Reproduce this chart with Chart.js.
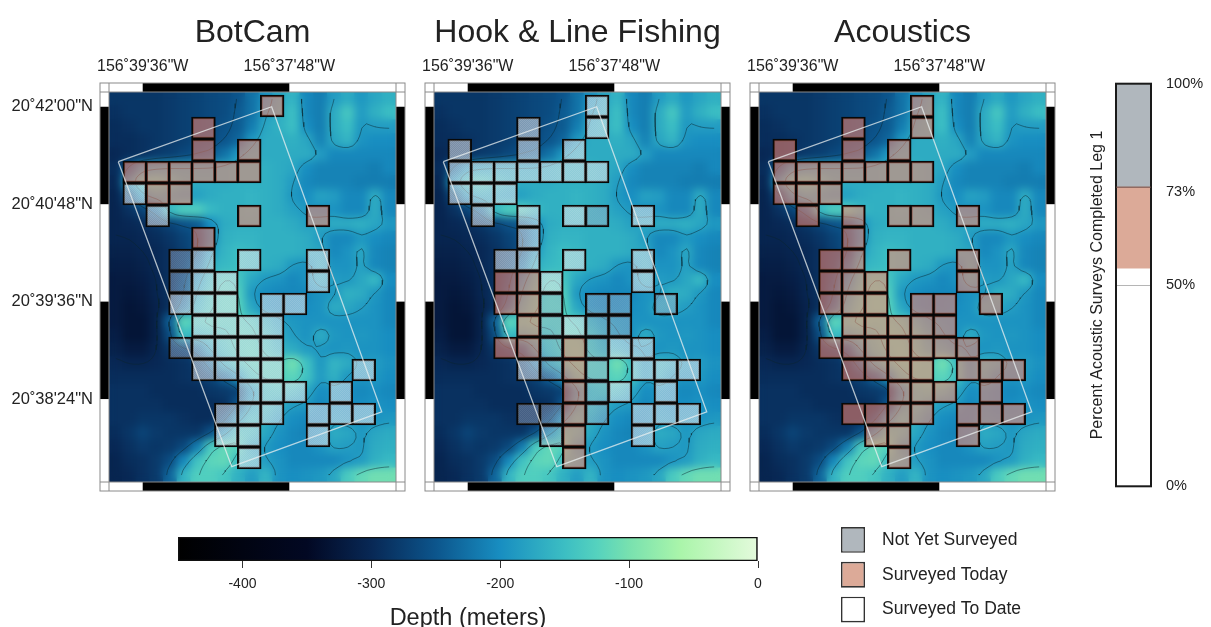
<!DOCTYPE html>
<html><head><meta charset="utf-8">
<script src="https://cdn.jsdelivr.net/npm/chart.js@4"></script>
<style>
html,body{margin:0;padding:0;background:#fff;width:1211px;height:627px;overflow:hidden}
canvas{position:absolute;display:block}
</style></head><body>
<canvas id="c1" style="left:0;top:0" width="420" height="500"></canvas>
<canvas id="c2" style="left:400px;top:0" width="345" height="500"></canvas>
<canvas id="c3" style="left:725px;top:0" width="345" height="500"></canvas>
<canvas id="cProg" style="left:1070px;top:60px" width="141" height="450"></canvas>
<canvas id="cBar" style="left:150px;top:520px" width="640" height="107"></canvas>
<canvas id="cLeg" style="left:830px;top:520px" width="230" height="107"></canvas>
<script>
const panelTitles = ["BotCam", "Hook & Line Fishing", "Acoustics"];
const lonTicks = [0, 108];
const lonLabels = ['156˚39\'36"W', '156˚37\'48"W'];
const latTicks = [0, 72, 144, 216];
const latLabels = ['20˚38\'24"N', '20˚39\'36"N', '20˚40\'48"N', '20˚42\'00"N'];
const lonRange = [-24.83, 186.6];
const latRange = [-61.3, 226.9];
const frameBlackLon = [[0, 108]];
const frameBlackLat = [[0, 72], [144, 216]];
const surveyBoxLon = [-18.0, 95.0, 176.1, 65.6, -18.0];
const surveyBoxLat = [175.4, 216.0, -9.4, -50.0, 175.4];
const gridLonStart = -14.3, gridLonStep = 16.87, gridLatStart = 224.7, gridLatStep = 16.26;

const botcamCells = ["......T....","...T.......","...T.T.....","TTTTTT.....","DTT........",".D...T..T..","...T.......","..ND.D..D..","..NDD...D..","..DDD.DD...","...DDDD....","..NDDDD....","...DDDD...D",".....DDD.D.","....DDD.DDD","....DD..D..",".....D....."];
const hookCells = ["......D....","...D..D....","D..D.D.....","DDDDDDD....","DDD........",".D.D.DN.D..","...D.......","..DD.D..D..","..TTD...D..","..TTN.NN.N.","...TNDNN...","..TTNTNDD..","...DNTN.DDD",".....TND.D.","...NNTN.DDD","....NT..D..",".....T....."];
const acousticsCells = ["......T....","...T..T....","T..T.T.....","TTTTTTT....","TTT........",".T.T.TT.T..","...T.......","..TT.T..T..","..TTT...T..","..TTT.TT.T.","...TTTTT...","..TTTTTTT..","...TTTT.TTT",".....TTT.T.","...TTTT.TTT","....TT..T..",".....T....."];

// depth below surface (m), west to east, north to south
const depthGrid = [
[285,285,285,285,280,275,270,265,260,250,225,195,175,160,205,215,185,170,190,175,165],
[290,285,285,285,280,275,270,265,260,245,225,185,170,150,205,215,170,140,185,165,150],
[295,290,285,285,280,275,270,265,255,245,215,175,165,150,200,215,170,150,190,185,185],
[295,295,290,285,280,275,265,260,250,235,190,170,170,165,175,210,175,160,195,200,200],
[300,295,290,280,275,265,255,245,225,190,170,170,170,170,170,185,205,205,205,205,205],
[295,240,190,180,175,175,175,175,170,165,165,165,170,175,200,210,210,210,210,215,205],
[300,190,140,135,150,165,170,170,170,165,165,165,170,185,205,210,210,210,215,215,215],
[305,260,190,170,175,180,180,170,165,165,160,165,170,190,200,180,185,205,205,170,205],
[305,290,270,235,150,130,130,155,165,165,160,165,170,180,190,195,195,205,205,170,205],
[305,300,295,285,270,255,245,200,170,165,165,165,165,170,180,175,170,170,165,175,190],
[305,305,300,295,285,270,255,205,165,160,160,165,165,165,170,185,205,205,190,200,205],
[310,310,305,300,290,275,255,185,160,150,155,165,165,165,170,175,205,195,175,205,210],
[315,315,310,300,290,270,230,165,155,150,155,165,170,190,195,170,195,195,180,205,210],
[320,320,315,305,290,260,195,150,130,140,175,190,195,205,195,170,185,190,175,155,200],
[320,325,320,305,290,250,175,140,125,130,190,200,205,205,205,195,190,165,170,190,205],
[320,330,325,310,290,230,160,135,125,125,175,200,205,205,200,195,170,175,185,195,205],
[320,330,330,310,240,120,135,125,130,130,135,160,180,190,195,195,195,195,195,195,205],
[315,330,330,310,260,150,160,150,140,125,130,145,170,185,195,170,190,195,190,195,200],
[310,320,320,305,285,270,240,175,145,130,125,140,160,170,185,190,195,190,195,195,200],
[300,305,305,300,295,290,280,230,165,140,125,125,130,105,145,190,160,170,190,185,195],
[295,295,295,295,295,290,285,270,240,190,140,130,130,120,145,185,165,190,195,190,200],
[290,290,290,295,295,295,295,285,280,270,190,150,145,155,175,200,195,200,205,200,205],
[290,290,290,290,295,295,295,295,290,250,175,150,170,185,190,205,195,200,200,195,200],
[290,290,285,285,285,290,295,295,260,190,150,165,185,200,205,205,190,195,195,195,190],
[295,285,270,280,285,285,285,255,190,140,150,175,195,205,210,200,170,175,190,175,170],
[300,290,280,285,280,265,215,135,115,125,175,190,200,205,205,195,180,185,190,170,165],
[305,295,290,280,260,205,145,120,115,150,160,185,195,205,205,205,205,195,185,165,155],
[305,300,290,280,235,160,130,130,140,165,185,160,195,200,195,190,175,135,115,105,105]
];
const contourLevels = [305, 250, 185, 135];

const colorDepths = [-450,-350,-300,-250,-200,-150,-125,-100,-60,0];
const colorStops = [[0,0,0],[2,8,35],[8,40,85],[12,85,140],[24,142,193],[60,190,195],[85,210,190],[120,225,175],[170,245,170],[228,250,220]];

const progressTicks = [0, 50, 73, 100];
const progressToDate = [0, 54];
const progressToday = [54, 74.3];
const progressNotYet = [74.3, 100];

const colorbarRange = [-450, 0];
const colorbarTicks = [-400, -300, -200, -100, 0];

const legendLabels = ["Not Yet Surveyed", "Surveyed Today", "Surveyed To Date"];
const legendColors = ["#b0b7bd", "#dcaa98", "#ffffff"];

const FONT = '"Liberation Sans", Arial, sans-serif';
const TEXT = '#222';
function meshFill(rgb,a1,a2){
  const c=document.createElement('canvas');c.width=c.height=2;
  const g=c.getContext('2d');
  g.fillStyle=`rgba(${rgb},${a1})`;g.fillRect(0,0,1,1);g.fillRect(1,1,1,1);
  g.fillStyle=`rgba(${rgb},${a2})`;g.fillRect(1,0,1,1);g.fillRect(0,1,1,1);
  return g.createPattern(c,'repeat');
}
const cellFill = {T:'rgba(250,135,110,0.55)', D:meshFill('228,232,236',0.6,0.52), N:meshFill('170,180,200',0.46,0.38)};
Chart.defaults.font.family = FONT;
Chart.defaults.animation = false;

function depthColor(d){
  for(let i=1;i<colorDepths.length;i++){
    if(d<=colorDepths[i]){
      const t=(d-colorDepths[i-1])/(colorDepths[i]-colorDepths[i-1]);
      const a=colorStops[i-1],b=colorStops[i];
      return `rgb(${a.map((v,k)=>Math.round(v+(b[k]-v)*t)).join(',')})`;
    }
  }
  return 'rgb(228,250,220)';
}
const nRows=depthGrid.length,nCols=depthGrid[0].length;
const gridLon=j=>lonRange[0]+(j+0.5)*(lonRange[1]-lonRange[0])/nCols;
const gridLat=i=>latRange[1]-(i+0.5)*(latRange[1]-latRange[0])/nRows;
const depthPoints=[],depthColors=[];
depthGrid.forEach((row,i)=>row.forEach((d,j)=>{
  depthPoints.push({x:gridLon(j),y:gridLat(i)});
  depthColors.push(depthColor(-d));
}));
// contour lines: traced on a refined, smoothed copy of the depth grid
const contourPoints=[];
(function(){
  const K=3,R=(nRows-1)*K+1,C=(nCols-1)*K+1;
  let f=[];
  for(let i=0;i<R;i++){const row=[];for(let j=0;j<C;j++){
    const a=i/K,b=j/K,i0=Math.min(Math.floor(a),nRows-2),j0=Math.min(Math.floor(b),nCols-2),u=a-i0,v=b-j0;
    row.push((1-u)*((1-v)*depthGrid[i0][j0]+v*depthGrid[i0][j0+1])+u*((1-v)*depthGrid[i0+1][j0]+v*depthGrid[i0+1][j0+1]));
  }f.push(row);}
  for(let pass=0;pass<2;pass++){
    const g=f.map(r=>r.slice());
    for(let i=0;i<R;i++)for(let j=0;j<C;j++){
      let s=0,w=0;
      for(let di=-1;di<=1;di++)for(let dj=-1;dj<=1;dj++){
        const a=i+di,b=j+dj;if(a<0||b<0||a>=R||b>=C)continue;
        const k=(2-Math.abs(di))*(2-Math.abs(dj));s+=f[a][b]*k;w+=k;
      }
      g[i][j]=s/w;
    }
    f=g;
  }
  const gap={x:NaN,y:NaN};
  contourLevels.forEach(L=>{
    for(let i=0;i<R-1;i++)for(let j=0;j<C-1;j++){
      const a=f[i][j]-L+1e-6,b=f[i][j+1]-L+1e-6,c=f[i+1][j+1]-L+1e-6,d=f[i+1][j]-L+1e-6;
      const xs=[];
      const x0=gridLon(j/K),x1=gridLon((j+1)/K),y0=gridLat(i/K),y1=gridLat((i+1)/K);
      if(a*b<0)xs.push({x:x0+(x1-x0)*a/(a-b),y:y0});
      if(b*c<0)xs.push({x:x1,y:y0+(y1-y0)*b/(b-c)});
      if(c*d<0)xs.push({x:x0+(x1-x0)*d/(d-c),y:y1});
      if(d*a<0)xs.push({x:x0,y:y0+(y1-y0)*a/(a-d)});
      for(let k=0;k+1<xs.length;k+=2)contourPoints.push(xs[k],xs[k+1],gap);
    }
  });
})();
const noPad=s=>{s.paddingTop=0;s.paddingBottom=0;};

const mapPlugin={
  id:'mapPlugin',
  afterDatasetDraw(chart,args){
    const ds=chart.data.datasets[args.index];
    if(!ds.blurPx)return;
    const A=chart.chartArea,w=Math.round(A.right-A.left),h=Math.round(A.bottom-A.top);
    const off=document.createElement('canvas');off.width=w;off.height=h;
    off.getContext('2d').drawImage(chart.canvas,A.left,A.top,w,h,0,0,w,h);
    const ctx=chart.ctx;ctx.save();
    ctx.beginPath();ctx.rect(A.left,A.top,w,h);ctx.clip();
    ctx.filter=`blur(${ds.blurPx}px)`;
    ctx.drawImage(off,A.left,A.top);
    ctx.restore();
  },
  afterDraw(chart){
    const {ctx,chartArea:A,scales:{x,y}}=chart;
    const w=9, ol=A.left-w, or=A.right+w, ot=A.top-w, ob=A.bottom+w;
    ctx.save();
    ctx.fillStyle='#fff';
    ctx.fillRect(ol,ot,or-ol,w);ctx.fillRect(ol,A.bottom,or-ol,w);
    ctx.fillRect(ol,ot,w,ob-ot);ctx.fillRect(A.right,ot,w,ob-ot);
    ctx.fillStyle='#000';
    frameBlackLon.forEach(([a,b])=>{
      const p=x.getPixelForValue(a),q=x.getPixelForValue(b);
      ctx.fillRect(p,ot,q-p,w);ctx.fillRect(p,A.bottom,q-p,w);
    });
    frameBlackLat.forEach(([a,b])=>{
      const p=y.getPixelForValue(b),q=y.getPixelForValue(a);
      ctx.fillRect(ol,p,w,q-p);ctx.fillRect(A.right,p,w,q-p);
    });
    ctx.strokeStyle='#8a8a8a';ctx.lineWidth=1;
    ctx.strokeRect(ol,ot,or-ol,ob-ot);
    ctx.beginPath();
    [A.top,A.bottom].forEach(v=>{ctx.moveTo(ol,v);ctx.lineTo(or,v);});
    [A.left,A.right].forEach(v=>{ctx.moveTo(v,ot);ctx.lineTo(v,ob);});
    ctx.stroke();
    ctx.restore();
  }
};

function makePanel(id,title,cells,leftPad,rightPad,showLat){
  const bars=[],fills=[];
  cells.forEach((row,r)=>[...row].forEach((s,c)=>{
    if(s==='.')return;
    const top=gridLatStart-r*gridLatStep;
    bars.push({x:gridLonStart+(c+0.5)*gridLonStep,y:[top-gridLatStep,top]});
    fills.push(cellFill[s]);
  }));
  const box=surveyBoxLon.map((v,i)=>({x:v,y:surveyBoxLat[i]}));
  new Chart(document.getElementById(id),{
    type:'scatter',
    data:{datasets:[
      {type:'scatter',data:box,showLine:true,borderColor:'rgba(235,240,240,0.75)',borderWidth:1.3,pointRadius:0,order:0,tension:0},
      {type:'bar',data:bars,backgroundColor:fills,borderColor:'#080808',borderWidth:1.9,borderSkipped:false,barThickness:23.8,grouped:false,order:1},
      {type:'scatter',data:contourPoints,showLine:true,spanGaps:false,borderColor:'rgba(10,35,45,0.6)',borderWidth:0.8,pointRadius:0,order:2},
      {type:'scatter',data:depthPoints,pointStyle:'rect',pointRadius:10.6,pointBorderWidth:0,borderWidth:0,pointBackgroundColor:depthColors,blurPx:4,order:3}
    ]},
    options:{
      responsive:false,devicePixelRatio:1,
      layout:{autoPadding:false,padding:{left:leftPad,right:rightPad,top:0,bottom:18}},
      plugins:{
        legend:{display:false},tooltip:{enabled:false},
        title:{display:true,text:title,fullSize:false,color:TEXT,font:{size:32,weight:'normal',family:FONT},padding:{top:13.6,bottom:0}}
      },
      scales:{
        x:{type:'linear',position:'top',min:lonRange[0],max:lonRange[1],offset:false,
          grid:{display:false,drawTicks:false},border:{display:false},
          afterBuildTicks:s=>{s.ticks=lonTicks.map(value=>({value}));},
          afterFit:s=>{s.height=40;s.paddingLeft=0;s.paddingRight=0;},
          ticks:{callback:(v,i)=>lonLabels[i],autoSkip:false,maxRotation:0,padding:16,color:TEXT,font:{size:16}}
        },
        y:{type:'linear',display:showLat,position:'left',min:latRange[0],max:latRange[1],
          grid:{display:false,drawTicks:false},border:{display:false},
          afterBuildTicks:s=>{s.ticks=latTicks.map(value=>({value}));},
          afterFit:s=>{s.width=showLat?109:0;noPad(s);},
          ticks:{callback:(v,i)=>latLabels[i],autoSkip:false,padding:16,color:TEXT,font:{size:16.5}}
        }
      }
    },
    plugins:[mapPlugin]
  });
}
makePanel('c1',panelTitles[0],botcamCells,0,24,true);
makePanel('c2',panelTitles[1],hookCells,34,24,false);
makePanel('c3',panelTitles[2],acousticsCells,34,24,false);

// progress column
new Chart(document.getElementById('cProg'),{
  type:'bar',
  data:{labels:['Leg 1'],datasets:[
    {data:[progressToDate],backgroundColor:'#ffffff',grouped:false},
    {data:[progressToday],backgroundColor:'#dcaa98',grouped:false},
    {data:[progressNotYet],backgroundColor:'#b0b7bd',grouped:false}
  ]},
  options:{
    responsive:false,devicePixelRatio:1,
    layout:{padding:{left:0,right:0,top:22,bottom:12}},
    datasets:{bar:{barPercentage:1,categoryPercentage:1}},
    plugins:{legend:{display:false},tooltip:{enabled:false}},
    scales:{
      x:{display:false},
      yL:{position:'left',min:0,max:100,
        grid:{display:false,drawTicks:false},border:{display:false},
        ticks:{display:false},
        afterFit:s=>{s.width=46;},
        title:{display:true,text:'Percent Acoustic Surveys Completed Leg 1',color:TEXT,font:{size:16},padding:{top:18,bottom:0}}
      },
      y:{position:'right',min:0,max:100,
        afterBuildTicks:s=>{s.ticks=progressTicks.map(value=>({value}));},
        afterFit:s=>{s.width=60;},
        grid:{z:1,drawTicks:false,color:c=>c.tick&&c.tick.value===50?'#b5b5b5':'rgba(0,0,0,0)'},border:{display:false},
        ticks:{callback:v=>v+'%',padding:15,color:TEXT,font:{size:14.5},autoSkip:false}
      }
    }
  },
  plugins:[{id:'progFrame',afterDraw(ch){
    const {ctx,chartArea:A,scales:{y}}=ch;
    ctx.save();ctx.strokeStyle='#1a1a1a';ctx.lineWidth=2;
    ctx.strokeRect(A.left,A.top,A.right-A.left,A.bottom-A.top);
    ctx.strokeStyle='#6b4a45';ctx.lineWidth=1;ctx.beginPath();
    const p=y.getPixelForValue(progressNotYet[0]);
    ctx.moveTo(A.left,p);ctx.lineTo(A.right,p);ctx.stroke();ctx.restore();
  }}]
});

// colour bar
new Chart(document.getElementById('cBar'),{
  type:'bar',
  data:{labels:['Depth'],datasets:[{data:[colorbarRange],
    backgroundColor:c=>{
      const ch=c.chart;if(!ch.chartArea)return '#000';
      const x=ch.scales.x,g=ch.ctx.createLinearGradient(x.left,0,x.right,0);
      colorDepths.forEach(d=>g.addColorStop((d-colorbarRange[0])/(colorbarRange[1]-colorbarRange[0]),depthColor(d)));
      return g;
    },
    borderColor:'#111',borderWidth:1.6,borderSkipped:false,barPercentage:1,categoryPercentage:1}]},
  options:{
    indexAxis:'y',responsive:false,devicePixelRatio:1,
    layout:{padding:{left:28,right:32,top:17,bottom:0}},
    plugins:{legend:{display:false},tooltip:{enabled:false}},
    scales:{
      y:{display:false},
      x:{position:'bottom',min:colorbarRange[0],max:colorbarRange[1],
        afterBuildTicks:s=>{s.ticks=colorbarTicks.map(value=>({value}));},
        afterFit:s=>{s.height=66;},
        grid:{drawOnChartArea:false,drawTicks:true,tickLength:7,color:'#333'},border:{display:false},
        ticks:{autoSkip:false,maxRotation:0,padding:8,color:TEXT,font:{size:14},callback:v=>String(v)},
        title:{display:true,text:'Depth (meters)',color:TEXT,font:{size:23.5,lineHeight:1},padding:{top:0,bottom:-3}}
      }
    }
  }
});

// key
new Chart(document.getElementById('cLeg'),{
  type:'bar',
  data:{labels:legendLabels,datasets:[{data:legendLabels.map(()=>[0,1]),backgroundColor:legendColors,borderColor:'#333',borderWidth:1.6,borderSkipped:false,barPercentage:1,categoryPercentage:0.74}]},
  options:{
    indexAxis:'y',responsive:false,devicePixelRatio:1,
    layout:{autoPadding:false,padding:{left:11,right:0,top:2.5,bottom:0}},
    plugins:{legend:{display:false},tooltip:{enabled:false}},
    scales:{
      x:{display:false,min:0,max:1},
      y:{position:'right',grid:{display:false,drawTicks:false},border:{display:false},
        afterFit:s=>{s.width=195;noPad(s);},
        ticks:{padding:17,color:TEXT,font:{size:17.5},autoSkip:false}}
    }
  }
});
</script>
</body></html>
